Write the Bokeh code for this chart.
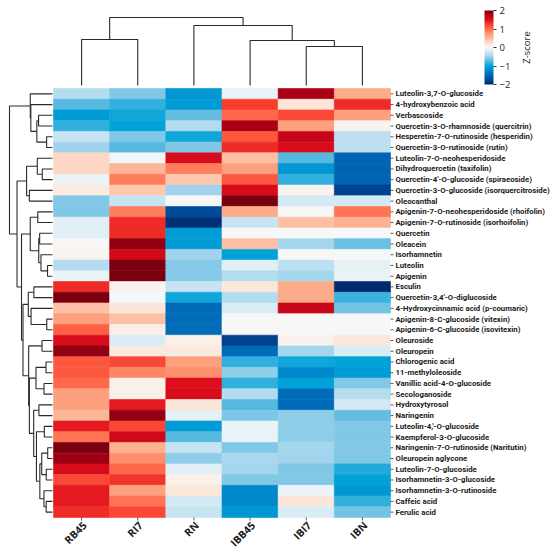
import math
from bokeh.plotting import figure
from bokeh.models import (Range1d, LinearColorMapper, ColorBar, FixedTicker,
                          ColumnDataSource)
from bokeh.transform import transform
from bokeh.core.properties import value
from bokeh.embed import file_html
from bokeh.resources import INLINE

# ---------------- data ----------------
samples = ["RB45", "RI7", "RN", "IBB45", "IBI7", "IBN"]

compounds = [
    "Luteolin-3,7-O-glucoside",
    "4-hydroxybenzoic acid",
    "Verbascoside",
    "Quercetin-3-O-rhamnoside (quercitrin)",
    "Hesperetin-7-O-rutinoside (hesperidin)",
    "Quercetin-3-O-rutinoside (rutin)",
    "Luteolin-7-O-neohesperidoside",
    "Dihydroquercetin (taxifolin)",
    "Quercetin-4'-O-glucoside (spiraeoside)",
    "Quercetin-3-O-glucoside (isorquercitroside)",
    "Oleocanthal",
    "Apigenin-7-O-neohesperidoside (rhoifolin)",
    "Apigenin-7-O-rutinoside (isorhoifolin)",
    "Quercetin",
    "Oleacein",
    "Isorhamnetin",
    "Luteolin",
    "Apigenin",
    "Esculin",
    "Quercetin-3,4'-O-diglucoside",
    "4-Hydroxycinnamic acid (p-coumaric)",
    "Apigenin-8-C-glucoside (vitexin)",
    "Apigenin-6-C-glucoside (isovitexin)",
    "Oleuroside",
    "Oleuropein",
    "Chlorogenic acid",
    "11-methyloleoside",
    "Vanillic acid-4-O-glucoside",
    "Secologanoside",
    "Hydroxytyrosol",
    "Naringenin",
    "Luteolin-4,'-O-glucoside",
    "Kaempferol-3-O-glucoside",
    "Naringenin-7-O-rutinoside (Naritutin)",
    "Oleuropein aglycone",
    "Luteolin-7-O-glucoside",
    "Isorhamnetin-3-O-glucoside",
    "Isorhamnetin-3-O-rutinoside",
    "Caffeic acid",
    "Ferulic acid",
]

z_rb45 = [-0.4, -0.75, -1.05, -0.85, -0.3, -0.5, 0.3, 0.3, -0.08, 0.15,
          -0.6, -0.6, -0.15, -0.15, 0.03, 0.05, -0.4, -0.08, 1.35, 2.0,
          0.45, 0.7, 1.05, 1.55, 1.9, 1.1, 1.1, 1.0, 0.7, 0.7,
          0.5, 1.45, 0.95, 2.0, 1.85, 1.55, 1.2, 1.45, 1.45, 1.35]
z_ri7 = [-0.6, -0.85, -0.95, -1.0, -0.6, -0.75, -0.05, 0.5, 0.9, 0.4,
         -0.3, 0.9, 1.35, 1.35, 1.9, 1.6, 2.0, 2.0, 0.05, -0.03,
         0.2, 0.45, 0.1, -0.2, 0.15, 1.2, 0.85, 0.08, 0.08, 1.45,
         1.9, 1.2, 1.6, 0.55, 0.8, 1.0, 1.3, 0.7, 0.95, 1.2]
z_rn = [-1.1, -1.05, -0.7, -0.4, -0.95, -0.6, 1.55, 0.9, 0.4, -0.5,
        0.0, -1.75, -1.95, -1.05, -1.05, -0.5, -0.58, -0.58, -0.3, -0.95,
        -1.45, -1.45, -1.45, 0.08, 0.15, 0.7, 0.8, 1.5, 1.55, 0.2,
        -0.12, -1.05, -0.75, -0.3, -0.55, -0.15, 0.08, 0.18, -0.25, -0.3]
z_ibb45 = [-0.1, 1.25, 1.0, 1.8, 1.1, 1.35, 0.45, 0.7, 1.1, 1.55,
           2.0, 0.6, -0.3, 0.0, 0.45, -1.0, -0.15, -0.4, 0.18, -0.4,
           -0.2, 0.0, 0.0, -1.8, -1.45, -0.85, -0.55, -0.85, -0.4, -0.75,
           -0.62, -0.08, -0.1, -0.6, -0.45, -0.47, -0.6, -1.25, -1.25, -1.1]
z_ibi7 = [1.8, 0.2, 1.2, 0.7, 1.65, 1.55, -0.75, -1.1, -0.85, 0.05,
          -0.25, 0.0, 0.45, 0.0, -0.48, 0.0, -0.35, -0.48, 0.6, 0.6,
          1.65, 0.0, 0.0, 0.07, -0.48, -0.95, -1.25, -1.0, -1.45, -1.45,
          -0.55, -0.55, -0.55, -0.48, -0.5, -0.6, -0.6, -0.08, 0.2, -0.2]
z_ibn = [0.6, 1.35, 0.7, 0.05, -0.35, -0.35, -1.5, -1.5, -1.5, -1.8,
         -0.25, 0.95, 0.55, 0.0, -0.68, 0.0, -0.12, -0.08, -2.0, -0.82,
         -0.65, 0.0, 0.0, 0.18, -0.2, -1.0, -1.05, -0.6, -0.4, -0.25,
         -0.7, -0.6, -0.6, -0.6, -0.6, -0.9, -1.0, -1.1, -0.85, -0.65]

# sample dendrogram: [left, right, linkage height]
col_tree = [[0, 1, 46], [2, [3, [4, 5, 39], 45], 60], 68]

colorbar_ticks = [-2, -1, 0, 1, 2]
colorbar_labels = ["\u22122", "\u22121", "0", "1", "2"]
colorbar_title = "Z-score"

# ---------------- styling helpers ----------------
stops = [(-2.0, "#002a6e"), (-1.75, "#004a9a"), (-1.5, "#0064b4"), (-1.25, "#0088cc"),
         (-1.0, "#00a2d8"), (-0.75, "#55b8e0"), (-0.5, "#a0d4ec"), (-0.25, "#d2e9f4"),
         (0.0, "#f8f8f8"), (0.25, "#fde0d0"), (0.5, "#fdb898"), (0.75, "#fd9a76"),
         (1.0, "#ff6a4c"), (1.25, "#f8402f"), (1.5, "#e0101c"), (1.75, "#b80018"),
         (2.0, "#7a0010")]


def hex2rgb(h):
    return tuple(int(h[i:i + 2], 16) for i in (1, 3, 5))


palette = []
NP = 256
for k in range(NP):
    v = -2 + 4 * k / (NP - 1)
    for (a, ca), (b, cb) in zip(stops[:-1], stops[1:]):
        if a <= v <= b:
            t = (v - a) / (b - a)
            r1, g1, b1 = hex2rgb(ca)
            r2, g2, b2 = hex2rgb(cb)
            palette.append("#%02x%02x%02x" % (round(r1 + (r2 - r1) * t),
                                              round(g1 + (g2 - g1) * t),
                                              round(b1 + (b2 - b1) * t)))
            break

mapper = LinearColorMapper(palette=palette, low=-2, high=2)

nrow = len(compounds)
ncol = len(samples)
columns = [z_rb45, z_ri7, z_rn, z_ibb45, z_ibi7, z_ibn]
rows = list(zip(*columns))

xs, ys, zs = [], [], []
for j, col in enumerate(columns):
    for i, v in enumerate(col):
        xs.append(j)
        ys.append(nrow - 1 - i)
        zs.append(v)
src = ColumnDataSource(dict(x=xs, y=ys, z=zs))


# compound dendrogram: average-linkage (euclidean) clustering of the rows,
# merging neighbouring clusters in the displayed order
def ordered_average_linkage(vals):
    n = len(vals)
    D = [[math.dist(vals[a], vals[b]) for b in range(n)] for a in range(n)]
    clusters = [([i], i, 0.0) for i in range(n)]
    while len(clusters) > 1:
        best = None
        for k in range(len(clusters) - 1):
            A, B = clusters[k][0], clusters[k + 1][0]
            d = sum(D[a][b] for a in A for b in B) / (len(A) * len(B))
            if best is None or d < best[0]:
                best = (d, k)
        d, k = best
        A, B = clusters[k], clusters[k + 1]
        h = max(d, A[2], B[2])
        clusters[k:k + 2] = [(A[0] + B[0], [A[1], B[1], h], h)]
    return clusters[0][1], clusters[0][2]


row_tree, row_root = ordered_average_linkage(rows)

# ---------------- layout (pixels) ----------------
W, H = 550, 559            # whole canvas is the plotting frame
HL, HR = 53, 390           # heatmap left/right inside the canvas
HT, HB = 88, 517           # heatmap top/bottom inside the canvas
px_x = (HR - HL) / ncol
px_y = (HB - HT) / nrow
x0 = -0.5 - HL / px_x
y1 = nrow - 0.5 + HT / px_y

p = figure(width=W, height=H, output_backend="svg", toolbar_location=None,
           x_range=Range1d(x0, ncol - 0.5 + (W - HR) / px_x),
           y_range=Range1d(-0.5 - (H - HB) / px_y, y1),
           x_axis_location=None, y_axis_location=None,
           min_border=0)
p.outline_line_color = None
p.grid.visible = False
p.background_fill_color = "white"
p.border_fill_color = "white"

p.rect(x="x", y="y", width=1, height=1, source=src,
       fill_color=transform("z", mapper), line_color=transform("z", mapper),
       line_width=0.6)


def walk(node, segs, scale):
    if isinstance(node, int):
        return float(node), 0.0
    l, r, h = node
    pl, hl = walk(l, segs, scale)
    pr, hr = walk(r, segs, scale)
    h = h * scale
    segs.append(([pl, pl, pr, pr], [hl, h, h, hr]))
    return (pl + pr) / 2, h


DCOL = "#2b2b2b"
# column dendrogram
cseg = []
walk(col_tree, cseg, 1.0)
cx = [pos for pos, hh in cseg]
cy = [[nrow - 0.5 + (3 + v) / px_y for v in hh] for pos, hh in cseg]
p.multi_line(xs=cx, ys=cy, line_color=DCOL, line_width=1.1)

# row dendrogram (root drawn 44 px left of the heatmap)
rseg = []
walk(row_tree, rseg, 43.0 / row_root)
rx = [[-0.5 - (1 + v) / px_x for v in hh] for pos, hh in rseg]
ry = [[nrow - 1 - q for q in pos] for pos, hh in rseg]
p.multi_line(xs=rx, ys=ry, line_color=DCOL, line_width=1.1)

# row ticks + labels (right side)
ry_c = [nrow - 1 - i for i in range(nrow)]
p.segment(x0=[ncol - 0.5] * nrow, x1=[ncol - 0.5 + 3 / px_x] * nrow,
          y0=ry_c, y1=ry_c, line_color="#333333", line_width=0.8)
p.text(x=[ncol - 0.5 + 5 / px_x] * nrow, y=ry_c, text=compounds,
       text_font=value("Roboto"), text_font_style="bold", text_font_size="7.8px",
       text_color="#1a1a1a", text_align="left", text_baseline="middle")

# column ticks + labels (bottom, rotated)
cx_c = list(range(ncol))
p.segment(x0=cx_c, x1=cx_c, y0=[-0.5] * ncol, y1=[-0.5 - 3 / px_y] * ncol,
          line_color="#333333", line_width=0.8)
p.text(x=[c + 3 / px_x for c in cx_c], y=[-0.5 - 6 / px_y] * ncol, text=samples,
       angle=math.pi / 4,
       text_font=value("Open Sans"), text_font_style="bold", text_font_size="10.5px",
       text_color="#1a1a1a", text_align="right", text_baseline="middle")

# colour bar
cb = ColorBar(color_mapper=mapper, ticker=FixedTicker(ticks=colorbar_ticks),
              major_label_overrides=dict(zip(colorbar_ticks, colorbar_labels)),
              width=9, height=74, padding=0, margin=0,
              location=(484, H - 84), bar_line_color=None,
              major_tick_in=0, major_tick_out=3, major_tick_line_color="#333333",
              major_label_text_font_size="9.5px", major_label_text_font="Open Sans",
              major_label_text_color="#222222", label_standoff=3,
              background_fill_alpha=0, border_line_color=None)
p.add_layout(cb, "center")

p.text(x=[x0 + 526 / px_x], y=[y1 - 47 / px_y], text=[colorbar_title], angle=math.pi / 2,
       text_font=value("Open Sans"), text_font_size="9.5px", text_color="#222222",
       text_align="center", text_baseline="middle")

open("out.html", "w").write(file_html(p, INLINE))
